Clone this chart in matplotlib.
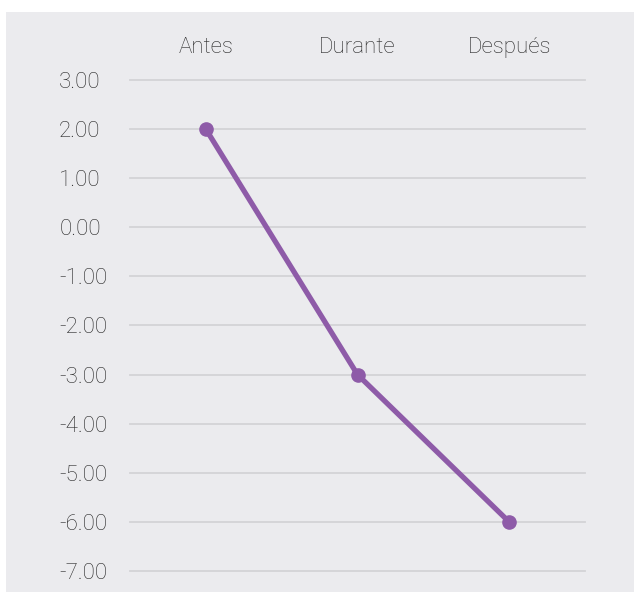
import matplotlib.pyplot as plt
from matplotlib.patches import Rectangle

etapas = ['Antes', 'Durante', 'Después']
valores = [2.0, -3.0, -6.0]
yticks = [3, 2, 1, 0, -1, -2, -3, -4, -5, -6, -7]

W, H = 634, 592
fig = plt.figure(figsize=(W / 100, H / 100), dpi=100)
fig.patch.set_facecolor('white')

# gray panel behind the chart
fig.add_artist(Rectangle((6 / W, 0), 1 - 6 / W, 1 - 12 / H, transform=fig.transFigure,
                         facecolor='#EBEBEE', edgecolor='none', zorder=-1))

left, right = 130 / W, 585 / W
top, bottom = 1 - 80 / H, 1 - 571 / H
ax = fig.add_axes([left, bottom, right - left, top - bottom])
ax.set_facecolor('none')
ax.set_zorder(1)

x = list(range(len(etapas)))
ax.plot(x, valores, color='#8E5BA8', lw=3.8, marker='o', ms=9.5, zorder=3,
        solid_capstyle='round')

ax.set_xlim(-0.5, len(etapas) - 0.5)
ax.set_ylim(min(yticks), max(yticks))
for v in yticks:
    ax.axhline(v, color='#D3D3D6', lw=1.3, zorder=1, clip_on=False)

font = dict(family=['Roboto', 'DejaVu Sans'], weight='light', color='#262626', fontsize=16)
ax.set_yticks(yticks)
ax.set_yticklabels([f'{v:.2f}' for v in yticks], ha='left', **font)
ax.xaxis.tick_top()
ax.set_xticks(x)
ax.set_xticklabels(etapas, **font)
ax.tick_params(length=0)
ax.tick_params(axis='y', pad=51)
ax.tick_params(axis='x', pad=16)
for s in ax.spines.values():
    s.set_visible(False)

fig.savefig('out.png', dpi=100)
